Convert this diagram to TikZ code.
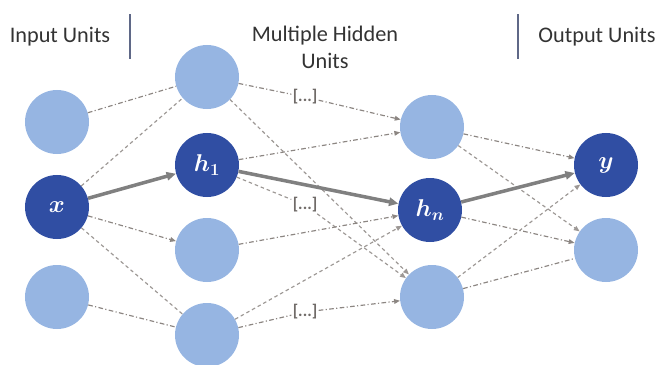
\documentclass[tikz,border=0pt]{standalone}
\usepackage{fontspec}
\setmainfont{Carlito}
\usepackage{amsmath,bm}
\usetikzlibrary{arrows.meta, positioning}
\definecolor{cLight}{RGB}{150,181,226}
\definecolor{cDark}{RGB}{48,78,163}
\definecolor{cLine}{RGB}{140,134,130}
\definecolor{cThick}{RGB}{128,128,128}
\definecolor{cBar}{RGB}{95,104,135}
\tikzset{
  unitnode/.style={circle, minimum size=1.92cm, inner sep=0pt, fill=cLight},
  keynode/.style={unitnode, fill=cDark, text=white, font=\huge},
  headnode/.style={font=\fontsize{19}{23}\selectfont, text=black!80, align=center},
  dotsnode/.style={font=\bfseries\Large, text=cLine!80!black, inner sep=1pt},
  sepbar/.style={line width=1.6pt, color=cBar},
  mainarrow/.style={-{Triangle[length=8pt,width=7pt]}, line width=3pt, color=cThick},
  dashdot/.style={dash pattern=on 4pt off 2pt on 1pt off 2pt, line width=1pt, color=cLine},
  dashline/.style={dash pattern=on 3pt off 2.5pt, line width=1pt, color=cLine!85},
  tip/.style={-{Triangle[length=5pt,width=4pt]}}
}
\begin{document}
\begin{tikzpicture}[x=0.03cm, y=-0.03cm]
  \useasboundingbox (0,0) rectangle (662,365);

  % headers
  \node[headnode] (hIn) at (60,37) {Input Units};
  \node[headnode] (hHid) at (325,47) {Multiple Hidden\\Units};
  \node[headnode] (hOut) at (597,37) {Output Units};
  \coordinate (barAtop) at (130,14);
  \coordinate (barAbot) at (130,59);
  \coordinate (barBtop) at (518,14);
  \coordinate (barBbot) at (518,59);
  \draw[sepbar] (barAtop) -- (barAbot);
  \draw[sepbar] (barBtop) -- (barBbot);

  % units
  \node[unitnode] (in1) at (57,122) {};
  \node[keynode]  (in2) at (57,207) {$\bm{x}$};
  \node[unitnode] (in3) at (57,297) {};

  \node[unitnode] (hA1) at (207,77) {};
  \node[keynode]  (hA2) at (207,165) {$\bm{h_1}$};
  \node[unitnode] (hA3) at (207,250) {};
  \node[unitnode] (hA4) at (207,335) {};

  \node[unitnode] (hB1) at (432,127) {};
  \node[keynode]  (hB2) at (430,210) {$\bm{h_n}$};
  \node[unitnode] (hB3) at (432,297) {};

  \node[keynode]  (out1) at (606,165) {$\bm{y}$};
  \node[unitnode] (out2) at (606,250) {};

  \node[dotsnode] (dotsA) at (305,97) {[...]};
  \node[dotsnode] (dotsB) at (305,205) {[...]};
  \node[dotsnode] (dotsC) at (305,312) {[...]};

  % input -> first hidden
  \draw[dashdot] (in1) -- (hA1);
  \draw[dashline] (in2) -- (hA1);
  \draw[dashdot, tip] (in2) -- (hA3);
  \draw[dashline] (in2) -- (hA4);
  \draw[dashdot] (in3) -- (hA4);

  % first hidden -> last hidden
  \draw[dashdot] (hA1) -- (dotsA);
  \draw[dashdot, tip] (dotsA) -- (hB1);
  \draw[dashline, tip] (hA1) -- (hB3);
  \draw[dashdot, tip] (hA2) -- (hB1);
  \draw[dashline] (hA2) -- (dotsB);
  \draw[dashline, tip] (dotsB) -- (hB3);
  \draw[dashdot, tip] (hA3) -- (hB2);
  \draw[dashline, tip] (hA4) -- (hB2);
  \draw[dashdot] (hA4) -- (dotsC);
  \draw[dashdot, tip] (dotsC) -- (hB3);

  % last hidden -> output
  \draw[dashdot, tip] (hB1) -- (out1);
  \draw[dashline, tip] (hB1) -- (out2);
  \draw[dashdot, tip] (hB2) -- (out2);
  \draw[dashline, tip] (hB3) -- (out1);
  \draw[dashdot] (hB3) -- (out2);

  % main path
  \draw[mainarrow] (in2) -- (hA2);
  \draw[mainarrow] (hA2) -- (hB2);
  \draw[mainarrow] (hB2) -- (out1);
\end{tikzpicture}
\end{document}
